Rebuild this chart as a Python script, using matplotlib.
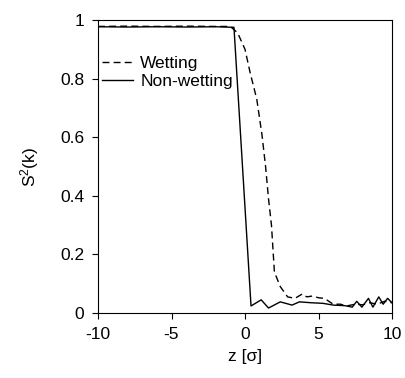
import matplotlib.pyplot as plt
from matplotlib.ticker import FuncFormatter

# wetting profile (dashed)
z_wet = [-10, -8, -6, -4, -2, -1, -0.5, 0.0, 0.35, 0.8, 1.15, 1.4, 1.6, 1.8, 2.0,
         2.4, 2.9, 3.4, 3.9, 4.2, 4.6, 5.0, 5.4, 6.0, 6.5, 6.9, 7.5, 8.0, 8.5,
         9.0, 9.5, 10]
s_wet = [0.978, 0.979, 0.978, 0.979, 0.978, 0.978, 0.956, 0.90, 0.82, 0.73, 0.61,
         0.50, 0.39, 0.30, 0.14, 0.09, 0.055, 0.05, 0.065, 0.055, 0.058, 0.052,
         0.05, 0.03, 0.03, 0.024, 0.03, 0.028, 0.035, 0.03, 0.04, 0.035]

# non-wetting profile (solid)
z_non = [-10, -8, -6, -4, -2, -0.75, 0.41, 1.1, 1.6, 2.4, 3.2, 3.7, 4.5, 5.3, 6.0,
         6.8, 7.3, 7.6, 7.95, 8.4, 8.7, 9.1, 9.4, 9.7, 10]
s_non = [0.977, 0.976, 0.977, 0.976, 0.977, 0.975, 0.024, 0.045, 0.017, 0.038,
         0.027, 0.038, 0.035, 0.033, 0.027, 0.025, 0.02, 0.04, 0.02, 0.05, 0.02,
         0.055, 0.03, 0.05, 0.035]

plt.rcParams['font.family'] = ['Liberation Sans', 'DejaVu Sans']
plt.rcParams['axes.unicode_minus'] = False
plt.rcParams['mathtext.default'] = 'regular'

fig = plt.figure(figsize=(4.05, 3.78), dpi=100)
ax = fig.add_axes([98 / 405, 1 - 313 / 378, 294 / 405, 293 / 378])

ax.plot(z_wet, s_wet, color='black', lw=1.0, ls=(0, (5, 3)), label='Wetting')
ax.plot(z_non, s_non, color='black', lw=1.0, label='Non-wetting')

ax.set_xlim(-10, 10)
ax.set_ylim(0, 1)
ax.set_xticks([-10, -5, 0, 5, 10])
ax.set_yticks([0, 0.2, 0.4, 0.6, 0.8, 1])
ax.yaxis.set_major_formatter(FuncFormatter(lambda v, p: f'{v:g}'))
ax.tick_params(direction='out', length=4, pad=6, labelsize=12.5, top=False, right=False)
ax.set_xlabel('z [σ]', fontsize=12.5, labelpad=5)
ax.set_ylabel('S$^{2}$(k)', fontsize=12.5, labelpad=14)

ax.legend(loc='upper left', bbox_to_anchor=(-0.01, 0.90), frameon=False,
          fontsize=12.5, handlelength=1.8, handletextpad=0.4,
          labelspacing=0.15, borderaxespad=0)

fig.savefig('out.png', dpi=100)
